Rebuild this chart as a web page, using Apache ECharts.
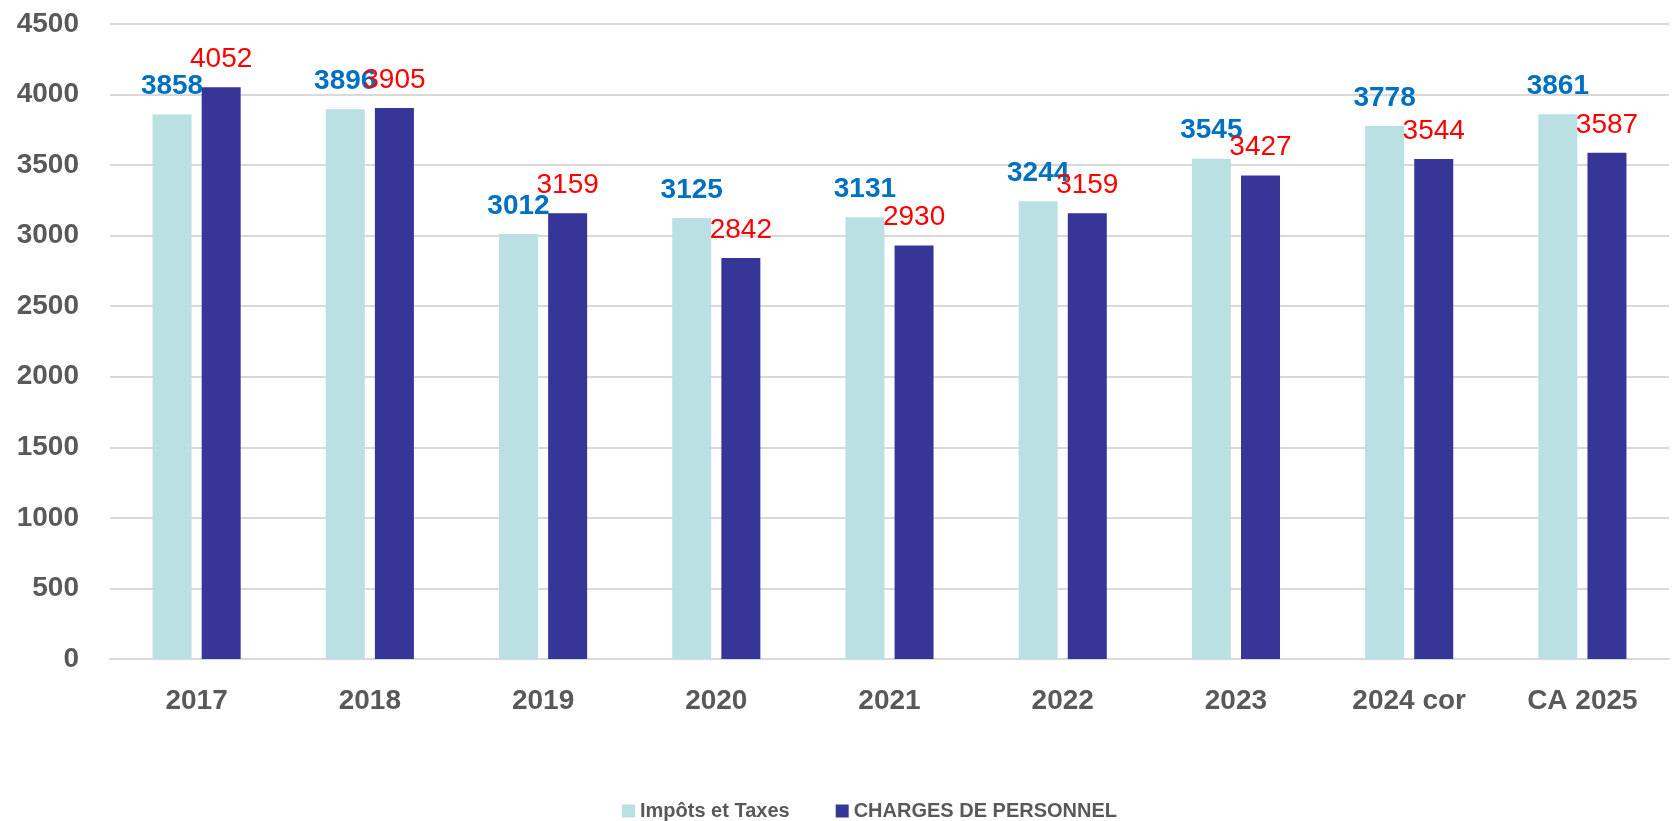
<!DOCTYPE html>
<html>
<head>
<meta charset="utf-8">
<script src="https://cdn.jsdelivr.net/npm/echarts@6/dist/echarts.min.js"></script>
<style>html,body{margin:0;padding:0;background:#fff}#c{width:1672px;height:821px}</style>
</head>
<body>
<div id="c"></div>
<script>
const categories = ['2017','2018','2019','2020','2021','2022','2023','2024 cor','CA 2025'];
const impots = [3858, 3896, 3012, 3125, 3131, 3244, 3545, 3778, 3861];
const charges = [4052, 3905, 3159, 2842, 2930, 3159, 3427, 3544, 3587];
const yTicks = {min: 0, max: 4500, interval: 500};

const FONT = '"Liberation Sans", Arial, sans-serif';
const chart = echarts.init(document.getElementById('c'), null, {renderer: 'canvas'});
chart.setOption({
  animation: false,
  backgroundColor: '#ffffff',
  textStyle: {fontFamily: FONT},
  grid: {left: 110, right: 3, top: 24, bottom: 162, containLabel: false},
  legend: {
    data: ['Impôts et Taxes', 'CHARGES DE PERSONNEL'],
    left: 617, top: 796,
    icon: 'rect', itemWidth: 13, itemHeight: 13, itemGap: 46,
    textStyle: {fontFamily: FONT, fontWeight: 'bold', fontSize: 20, color: '#595959'}
  },
  xAxis: {
    type: 'category', data: categories,
    axisLine: {show: true, lineStyle: {color: '#D9D9D9', width: 2}},
    axisTick: {show: false},
    axisLabel: {fontFamily: FONT, fontWeight: 'bold', fontSize: 28, color: '#595959', margin: 28}
  },
  yAxis: {
    type: 'value', min: yTicks.min, max: yTicks.max, interval: yTicks.interval,
    axisLine: {show: false}, axisTick: {show: false},
    splitLine: {lineStyle: {color: '#D9D9D9', width: 2}},
    axisLabel: {fontFamily: FONT, fontWeight: 'bold', fontSize: 28, color: '#595959', margin: 31,
      formatter: v => String(v)}
  },
  series: [
    {
      name: 'Impôts et Taxes', type: 'bar', data: impots,
      barWidth: 39, barGap: '26%',
      itemStyle: {color: '#BBE0E3'},
      label: {show: true, position: 'top', distance: 14, fontFamily: FONT, fontWeight: 'bold', fontSize: 28, color: '#0070C0'}
    },
    {
      name: 'CHARGES DE PERSONNEL', type: 'bar', data: charges,
      barWidth: 39, barGap: '26%',
      itemStyle: {color: '#363698'},
      label: {show: true, position: 'top', distance: 14, fontFamily: FONT, fontSize: 28, color: '#FF0000'}
    }
  ]
});
</script>
</body>
</html>
